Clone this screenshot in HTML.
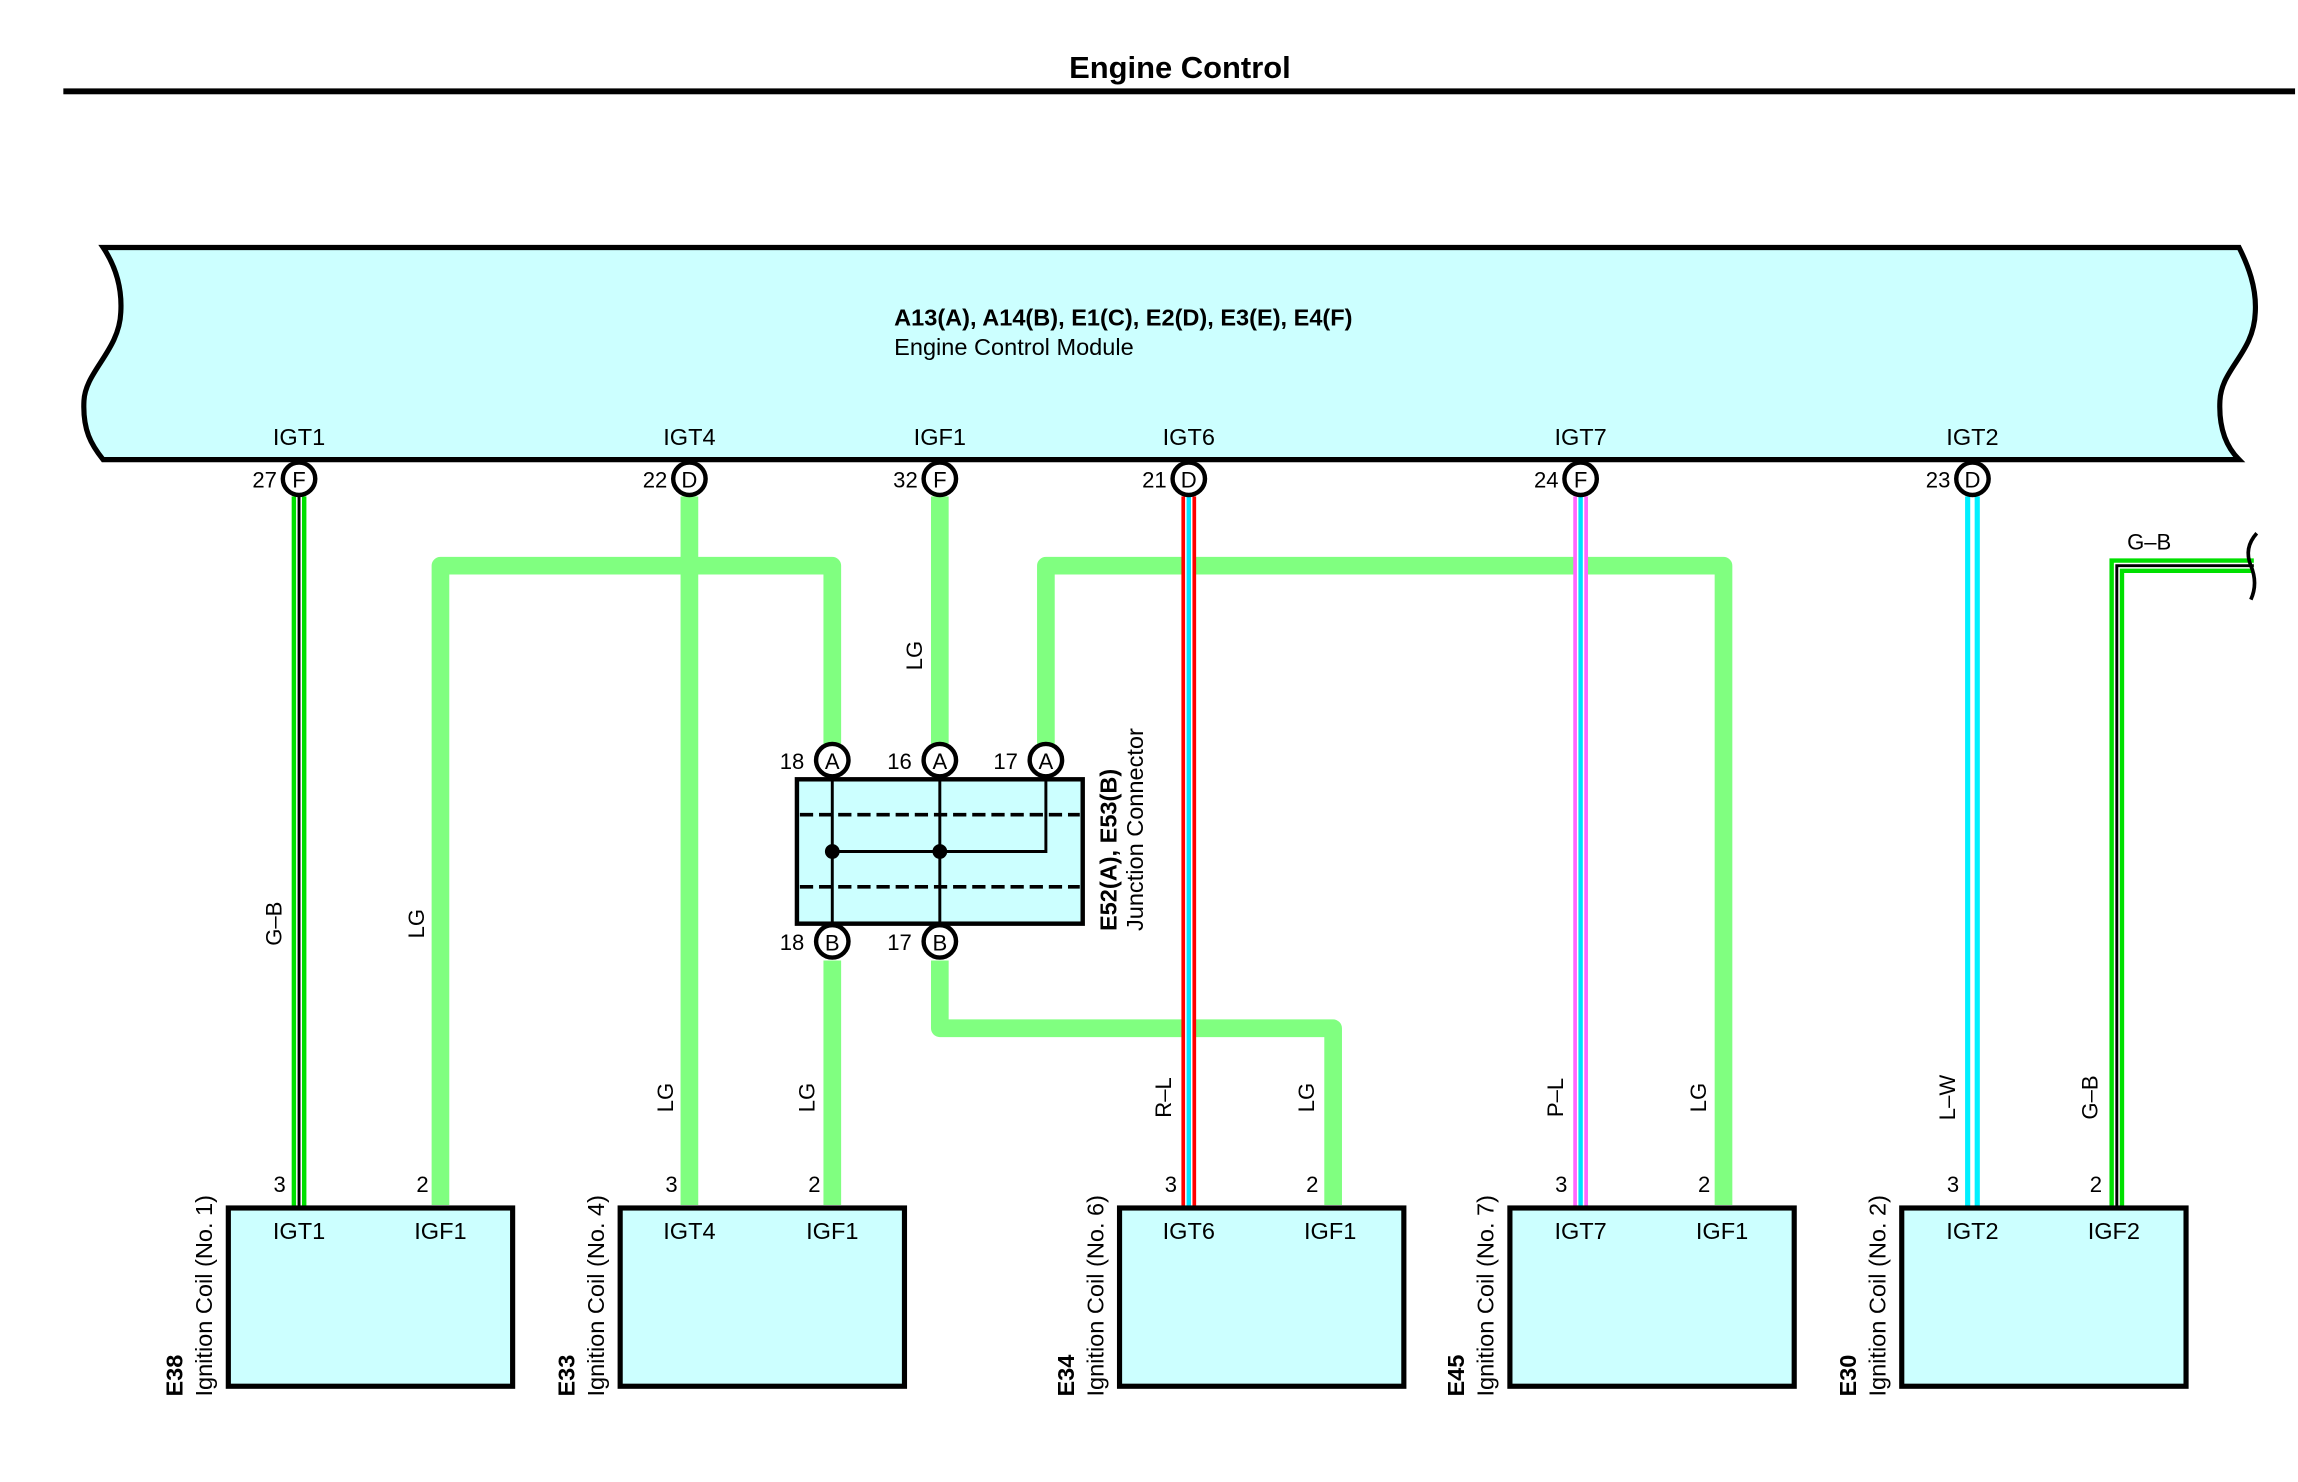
<!DOCTYPE html>
<html><head><meta charset="utf-8"><style>
html,body{margin:0;padding:0;background:#fff;}
svg{display:block;}
text{font-family:"Liberation Sans",sans-serif;fill:#000;}
.p{font-size:16px;}
.n{font-size:15px;}
.c{font-size:15px;text-anchor:middle;dominant-baseline:central;}
</style></head><body>
<svg width="2298" height="1482" viewBox="0 0 1560 1006" preserveAspectRatio="none" xmlns="http://www.w3.org/2000/svg">
<!-- title -->
<text x="801" y="53" font-size="21" font-weight="bold" text-anchor="middle">Engine Control</text>
<rect x="43" y="60" width="1515" height="4" fill="#000"/>

<!-- ECM -->
<path d="M70,168 L1520,168 C1526,180 1532,195 1531,212 C1530,240 1508,250 1507,272 C1506,292 1512,304 1520,312 L70,312 C62,302 56,292 57,272 C58,252 81,238 82,212 C83,195 78,180 70,168 Z" fill="#ccffff" stroke="#000" stroke-width="3.5"/>
<text x="607" y="221" font-size="16" font-weight="bold">A13(A), A14(B), E1(C), E2(D), E3(E), E4(F)</text>
<text x="607" y="241" font-size="16">Engine Control Module</text>
<g class="p" text-anchor="middle">
<text x="203" y="302">IGT1</text><text x="468" y="302">IGT4</text><text x="638" y="302">IGF1</text>
<text x="807" y="302">IGT6</text><text x="1073" y="302">IGT7</text><text x="1339" y="302">IGT2</text>
</g>

<!-- LG wires -->
<g stroke="#80ff80" stroke-width="12" fill="none" stroke-linejoin="round">
<path d="M468,337 V818"/>
<path d="M299,818 V384 H565 V505"/>
<path d="M638,337 V505"/>
<path d="M710,505 V384 H1170 V818"/>
<path d="M565,652 V818"/>
<path d="M638,652 V698 H905 V818"/>
</g>

<!-- G-B 1 -->
<rect x="198" y="337" width="10" height="483" fill="#00e000"/>
<rect x="201" y="337" width="4" height="483" fill="#fff"/>
<rect x="202" y="337" width="2" height="483" fill="#000"/>
<!-- R-L -->
<rect x="802" y="337" width="10" height="483" fill="#ff0000"/>
<rect x="804.5" y="337" width="5" height="483" fill="#fff"/>
<rect x="805.5" y="337" width="3" height="483" fill="#00e0ff"/>
<!-- P-L -->
<rect x="1068" y="337" width="10" height="483" fill="#ff66ff"/>
<rect x="1070.5" y="337" width="5" height="483" fill="#fff"/>
<rect x="1071.5" y="337" width="3" height="483" fill="#00e0ff"/>
<!-- L-W -->
<rect x="1334" y="337" width="10" height="483" fill="#00f0ff"/>
<rect x="1337.5" y="337" width="3" height="483" fill="#fff"/>
<!-- G-B right -->
<path d="M1437,820 V384 H1530" stroke="#00e000" stroke-width="10" fill="none"/>
<path d="M1437,820 V384 H1530" stroke="#fff" stroke-width="4" fill="none"/>
<path d="M1437,820 V384 H1530" stroke="#000" stroke-width="2" fill="none"/>
<path d="M1532,362 Q1523,372 1528,384 Q1533,396 1528,407" stroke="#000" stroke-width="2.5" fill="none"/>
<text x="1459" y="373" class="n" text-anchor="middle">G–B</text>

<!-- ECM connector circles -->
<g stroke="#000" stroke-width="3" fill="#fff">
<circle cx="203" cy="325" r="11"/><circle cx="468" cy="325" r="11"/><circle cx="638" cy="325" r="11"/>
<circle cx="807" cy="325" r="11"/><circle cx="1073" cy="325" r="11"/><circle cx="1339" cy="325" r="11"/>
</g>
<g class="c">
<text x="203" y="326">F</text><text x="468" y="326">D</text><text x="638" y="326">F</text>
<text x="807" y="326">D</text><text x="1073" y="326">F</text><text x="1339" y="326">D</text>
</g>
<g class="n" text-anchor="end">
<text x="188" y="331">27</text><text x="453" y="331">22</text><text x="623" y="331">32</text>
<text x="792" y="331">21</text><text x="1058" y="331">24</text><text x="1324" y="331">23</text>
</g>

<!-- junction connector -->
<rect x="541" y="529" width="194" height="98" fill="#ccffff" stroke="#000" stroke-width="3"/>
<g stroke="#000" stroke-width="2.5" stroke-dasharray="9,4"><line x1="543" y1="553" x2="733" y2="553"/><line x1="543" y1="602" x2="733" y2="602"/></g>
<g stroke="#000" stroke-width="2" fill="none">
<line x1="565" y1="529" x2="565" y2="627"/><line x1="638" y1="529" x2="638" y2="627"/>
<path d="M710,529 V578 H565"/>
</g>
<circle cx="565" cy="578" r="5" fill="#000"/><circle cx="638" cy="578" r="5" fill="#000"/>
<g stroke="#000" stroke-width="3" fill="#fff">
<circle cx="565" cy="516" r="11"/><circle cx="638" cy="516" r="11"/><circle cx="710" cy="516" r="11"/>
<circle cx="565" cy="639" r="11"/><circle cx="638" cy="639" r="11"/>
</g>
<g class="c">
<text x="565" y="517">A</text><text x="638" y="517">A</text><text x="710" y="517">A</text>
<text x="565" y="640">B</text><text x="638" y="640">B</text>
</g>
<g class="n" text-anchor="end">
<text x="546" y="522">18</text><text x="619" y="522">16</text><text x="691" y="522">17</text>
<text x="546" y="645">18</text><text x="619" y="645">17</text>
</g>
<text transform="translate(758,632) rotate(-90)" font-size="16" font-weight="bold">E52(A), E53(B)</text>
<text transform="translate(776,632) rotate(-90)" font-size="16">Junction Connector</text>

<!-- wire labels -->
<g class="n" text-anchor="middle">
<text transform="translate(191,627) rotate(-90)">G–B</text>
<text transform="translate(288,627) rotate(-90)">LG</text>
<text transform="translate(626,445) rotate(-90)">LG</text>
<text transform="translate(457,745) rotate(-90)">LG</text>
<text transform="translate(553,745) rotate(-90)">LG</text>
<text transform="translate(795,745) rotate(-90)">R–L</text>
<text transform="translate(892,745) rotate(-90)">LG</text>
<text transform="translate(1061,745) rotate(-90)">P–L</text>
<text transform="translate(1158,745) rotate(-90)">LG</text>
<text transform="translate(1327,745) rotate(-90)">L–W</text>
<text transform="translate(1424,745) rotate(-90)">G–B</text>
</g>

<!-- coils -->
<g fill="#ccffff" stroke="#000" stroke-width="3.5">
<rect x="155" y="820" width="193" height="121"/>
<rect x="421" y="820" width="193" height="121"/>
<rect x="760" y="820" width="193" height="121"/>
<rect x="1025" y="820" width="193" height="121"/>
<rect x="1291" y="820" width="193" height="121"/>
</g>
<g class="p" text-anchor="middle">
<text x="203" y="841">IGT1</text><text x="299" y="841">IGF1</text>
<text x="468" y="841">IGT4</text><text x="565" y="841">IGF1</text>
<text x="807" y="841">IGT6</text><text x="903" y="841">IGF1</text>
<text x="1073" y="841">IGT7</text><text x="1169" y="841">IGF1</text>
<text x="1339" y="841">IGT2</text><text x="1435" y="841">IGF2</text>
</g>
<g class="n" text-anchor="end">
<text x="194" y="809">3</text><text x="291" y="809">2</text>
<text x="460" y="809">3</text><text x="557" y="809">2</text>
<text x="799" y="809">3</text><text x="895" y="809">2</text>
<text x="1064" y="809">3</text><text x="1161" y="809">2</text>
<text x="1330" y="809">3</text><text x="1427" y="809">2</text>
</g>
<g font-size="16">
<text transform="translate(124,948) rotate(-90)" font-weight="bold">E38</text>
<text transform="translate(144,948) rotate(-90)">Ignition Coil (No. 1)</text>
<text transform="translate(390,948) rotate(-90)" font-weight="bold">E33</text>
<text transform="translate(410,948) rotate(-90)">Ignition Coil (No. 4)</text>
<text transform="translate(729,948) rotate(-90)" font-weight="bold">E34</text>
<text transform="translate(749,948) rotate(-90)">Ignition Coil (No. 6)</text>
<text transform="translate(994,948) rotate(-90)" font-weight="bold">E45</text>
<text transform="translate(1014,948) rotate(-90)">Ignition Coil (No. 7)</text>
<text transform="translate(1260,948) rotate(-90)" font-weight="bold">E30</text>
<text transform="translate(1280,948) rotate(-90)">Ignition Coil (No. 2)</text>
</g>
</svg>
</body></html>
